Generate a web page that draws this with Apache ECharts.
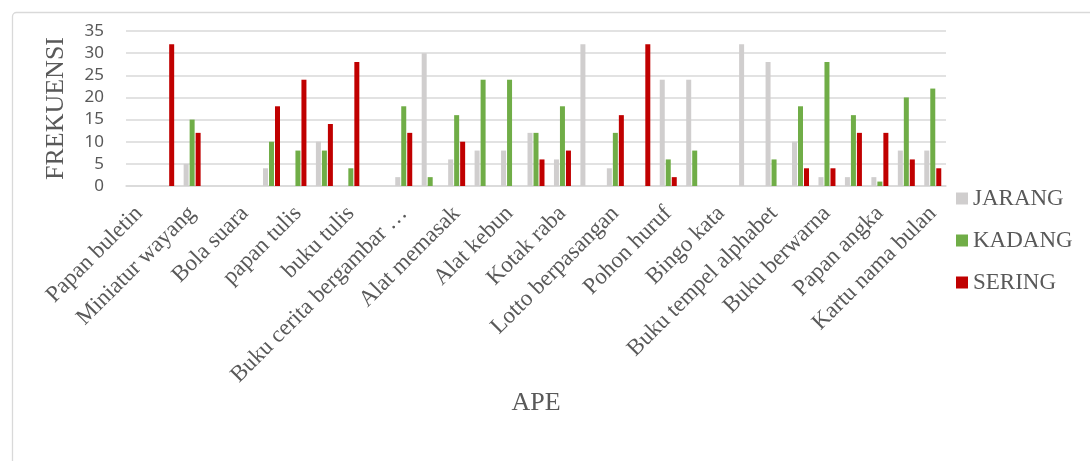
<!DOCTYPE html>
<html>
<head>
<meta charset="utf-8">
<script src="https://cdn.jsdelivr.net/npm/echarts@6/dist/echarts.min.js"></script>
<style>
html,body{margin:0;padding:0;background:#fff;}
#c{width:1090px;height:461px;}
</style>
</head>
<body>
<div id="c"></div>
<script>
// 31 categories; Excel shows every other label
const categories = [
  'Papan buletin', '', 'Miniatur wayang', '', 'Bola suara', '', 'papan tulis', '',
  'buku tulis', '', 'Buku cerita bergambar …', '', 'Alat memasak', '', 'Alat kebun', '',
  'Kotak raba', '', 'Lotto berpasangan', '', 'Pohon huruf', '', 'Bingo kata', '',
  'Buku tempel alphabet', '', 'Buku berwarna', '', 'Papan angka', '', 'Kartu nama bulan'
];
const jarang = [0,0,5,0,0,4,0,10,0,0,2,30,6,8,8,12,6,32,4,0,24,24,0,32,28,10,2,2,2,8,8];
const kadang = [0,0,15,0,0,10,8,8,4,0,18,2,16,24,24,12,18,0,12,0,6,8,0,0,6,18,28,16,1,20,22];
const sering = [0,32,12,0,0,18,24,14,28,0,12,0,10,0,0,6,8,0,16,32,2,0,0,0,0,4,4,12,12,6,4];
const seriesNames = ['JARANG', 'KADANG', 'SERING'];
const yTicks = [0, 5, 10, 15, 20, 25, 30, 35];

const chart = echarts.init(document.getElementById('c'), null, {renderer: 'canvas'});
const textColor = '#595959';
const serif = '"Liberation Serif", "Times New Roman", serif';
chart.setOption({
  animation: false,
  graphic: [{
    type: 'rect', left: 10, top: 10,
    shape: {width: 1100, height: 470, r: 4},
    style: {fill: 'none', stroke: '#d9d9d9', lineWidth: 1.3}
  }],
  grid: {left: 126, right: 144, top: 31, bottom: 275, containLabel: false},
  legend: {
    orient: 'vertical', left: 951, top: 182,
    itemWidth: 12, itemHeight: 12, itemGap: 19,
    icon: 'rect',
    textStyle: {fontFamily: serif, fontSize: 23, color: textColor},
    data: seriesNames
  },
  xAxis: {
    type: 'category', data: categories,
    name: 'APE', nameLocation: 'middle', nameGap: 203,
    nameTextStyle: {fontFamily: serif, fontSize: 26, color: textColor},
    axisLine: {lineStyle: {color: '#d9d9d9', width: 1.5}},
    axisTick: {show: false},
    axisLabel: {interval: 1, rotate: 45, margin: 24, fontFamily: serif, fontSize: 23, color: textColor}
  },
  yAxis: {
    type: 'value', min: yTicks[0], max: yTicks[yTicks.length - 1], interval: 5,
    name: 'FREKUENSI', nameLocation: 'middle', nameGap: 57, nameRotate: 90,
    nameTextStyle: {fontFamily: serif, fontSize: 26, color: textColor},
    axisLine: {show: false}, axisTick: {show: false},
    axisLabel: {margin: 22, fontFamily: '"Noto Sans", sans-serif', fontSize: 17, color: textColor},
    splitLine: {lineStyle: {color: '#d9d9d9', width: 1.5}}
  },
  series: [
    {name: seriesNames[0], type: 'bar', data: jarang, barWidth: 5, barGap: '20%', itemStyle: {color: '#d0cece'}},
    {name: seriesNames[1], type: 'bar', data: kadang, barWidth: 5, barGap: '20%', itemStyle: {color: '#70ad47'}},
    {name: seriesNames[2], type: 'bar', data: sering, barWidth: 5, barGap: '20%', itemStyle: {color: '#c00000'}}
  ]
});
</script>
</body>
</html>
